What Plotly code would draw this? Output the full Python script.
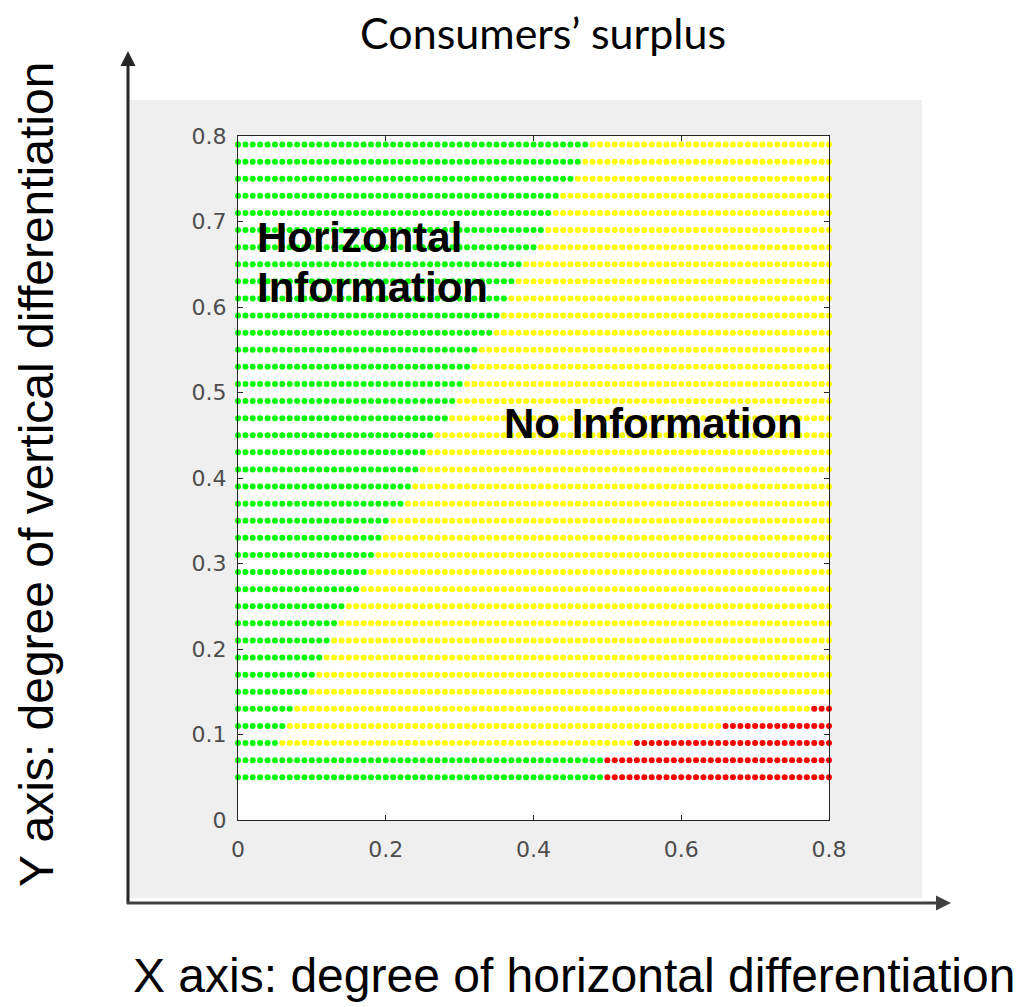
import numpy as np
import plotly.graph_objects as go

# ---------------- data ----------------
# grid of parameter values
x_grid = [round(i / 100, 2) for i in range(0, 81)]          # 0.00 .. 0.80
y_rows = [0.05, 0.07, 0.09, 0.11, 0.13, 0.15, 0.17, 0.19, 0.21, 0.23,
          0.25, 0.27, 0.29, 0.31, 0.33, 0.35, 0.37, 0.39, 0.41, 0.43,
          0.45, 0.47, 0.49, 0.51, 0.53, 0.55, 0.57, 0.59, 0.61, 0.63,
          0.65, 0.67, 0.69, 0.71, 0.73, 0.75, 0.77, 0.79]
# last x (per row) where "Horizontal Information" (green) is optimal
green_end = [0.49, 0.49, 0.05, 0.06, 0.07, 0.09, 0.10, 0.11, 0.12, 0.13,
             0.14, 0.16, 0.17, 0.18, 0.19, 0.20, 0.22, 0.23, 0.24, 0.25,
             0.26, 0.28, 0.29, 0.30, 0.31, 0.32, 0.34, 0.35, 0.36, 0.37,
             0.38, 0.40, 0.41, 0.42, 0.43, 0.45, 0.46, 0.47]
# first x (per row) of the red region (None = no red)
red_start = [0.50, 0.50, 0.54, 0.66, 0.78] + [None] * 33

tick_vals = [0, 0.1, 0.2, 0.3, 0.4, 0.5, 0.6, 0.7, 0.8]
x_tick_vals = [0, 0.2, 0.4, 0.6, 0.8]

title_text = "Consumers’ surplus"
y_label = "Y axis: degree of vertical differentiation"
x_label = "X axis: degree of horizontal differentiation"

# ---------------- classify points ----------------
gx, gy, yx, yy, rx, ry = [], [], [], [], [], []
for y, ge, rs in zip(y_rows, green_end, red_start):
    for x in x_grid:
        if x <= ge + 1e-9:
            gx.append(x); gy.append(y)
        elif rs is not None and x >= rs - 1e-9:
            rx.append(x); ry.append(y)
        else:
            yx.append(x); yy.append(y)

W, H = 1019, 1007
L, R, T, B = 238, 829, 136, 820


def px(x):
    return (x - L) / (R - L)


def py(y):
    return (B - y) / (B - T)


fig = go.Figure()
mk = dict(size=6, symbol="circle", line=dict(width=0))
fig.add_trace(go.Scatter(x=yx, y=yy, mode="markers", marker=dict(color="#ffff00", **mk),
                         cliponaxis=False, hoverinfo="skip"))
fig.add_trace(go.Scatter(x=gx, y=gy, mode="markers", marker=dict(color="#00ff00", **mk),
                         cliponaxis=False, hoverinfo="skip"))
fig.add_trace(go.Scatter(x=rx, y=ry, mode="markers", marker=dict(color="#ff0000", **mk),
                         cliponaxis=False, hoverinfo="skip"))

shapes = [
    # grey figure panel
    dict(type="rect", xref="paper", yref="paper", x0=px(129), x1=px(922), y0=py(898), y1=py(100),
         fillcolor="#efefef", line=dict(width=0), layer="below"),
    # white axes area
    dict(type="rect", xref="paper", yref="paper", x0=0, x1=1, y0=0, y1=1,
         fillcolor="white", line=dict(width=0), layer="below"),
    # vertical arrow
    dict(type="line", xref="paper", yref="paper", x0=px(128), x1=px(128), y0=py(904), y1=py(62),
         line=dict(color="#262626", width=3)),
    dict(type="path", xref="paper", yref="paper",
         path=f"M {px(128)},{py(51)} L {px(120.5)},{py(66)} L {px(135.5)},{py(66)} Z",
         fillcolor="#262626", line=dict(width=0)),
    # horizontal arrow
    dict(type="line", xref="paper", yref="paper", x0=px(127), x1=px(940), y0=py(903), y1=py(903),
         line=dict(color="#404040", width=3)),
    dict(type="path", xref="paper", yref="paper",
         path=f"M {px(951)},{py(903)} L {px(936)},{py(895.5)} L {px(936)},{py(910.5)} Z",
         fillcolor="#404040", line=dict(width=0)),
]

annotations = [
    dict(text=title_text, xref="paper", yref="paper", x=px(543), y=py(33), showarrow=False,
         xanchor="center", yanchor="middle", font=dict(family="Lato", size=43, color="black")),
    dict(text=y_label, xref="paper", yref="paper", x=px(36), y=py(475), showarrow=False,
         textangle=-90, xanchor="center", yanchor="middle",
         font=dict(family="Liberation Sans", size=48, color="black")),
    dict(text=x_label, xref="paper", yref="paper", x=px(574), y=py(975), showarrow=False,
         xanchor="center", yanchor="middle",
         font=dict(family="Liberation Sans", size=48, color="black")),
    dict(text="<b>Horizontal</b>", xref="paper", yref="paper", x=px(255), y=py(237), showarrow=False,
         xanchor="left", yanchor="middle", font=dict(family="Liberation Sans", size=42, color="black")),
    dict(text="<b>Information</b>", xref="paper", yref="paper", x=px(255), y=py(287), showarrow=False,
         xanchor="left", yanchor="middle", font=dict(family="Liberation Sans", size=42, color="black")),
    dict(text="<b>No Information</b>", xref="paper", yref="paper", x=px(653), y=py(423), showarrow=False,
         xanchor="center", yanchor="middle", font=dict(family="Liberation Sans", size=42, color="black")),
]

axis_common = dict(showgrid=False, zeroline=False, showline=True, mirror="ticks",
                   linecolor="#262626", linewidth=1, ticks="inside", ticklen=5,
                   tickcolor="#262626", tickwidth=1,
                   tickfont=dict(family="DejaVu Sans", size=22, color="#4d4d4d"))

fig.update_layout(
    width=W, height=H,
    margin=dict(l=L, r=W - R, t=T, b=H - B, pad=0),
    paper_bgcolor="white", plot_bgcolor="white",
    showlegend=False,
    shapes=shapes, annotations=annotations,
    xaxis=dict(range=[0, 0.8], tickvals=x_tick_vals, ticktext=[str(v) for v in x_tick_vals],
               ticklabelstandoff=10, **axis_common),
    yaxis=dict(range=[0, 0.8], tickvals=tick_vals, ticktext=[str(v) for v in tick_vals],
               ticklabelstandoff=6, **axis_common),
)

fig.write_html("out.html")
